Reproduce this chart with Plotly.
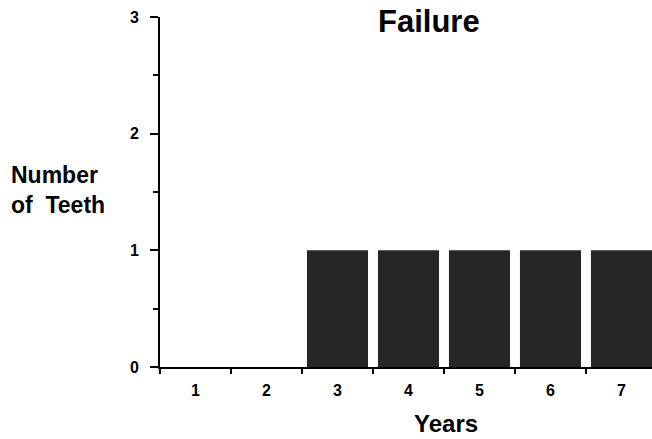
import plotly.graph_objects as go

years = ["1", "2", "3", "4", "5", "6", "7"]
teeth = [0, 0, 1, 1, 1, 1, 1]
y_ticks = [0, 1, 2, 3]

W, H = 652, 439
L, R, T, B = 160, 0, 17, 439 - 367
pw, ph = W - L - R, H - T - B

def px(x):
    return (x - L) / pw

def py(y):
    return (H - B - y) / ph

FONT = "Liberation Sans, Arial, sans-serif"

fig = go.Figure(go.Bar(
    x=years, y=teeth, marker=dict(color="#262626", line=dict(width=0)),
    width=0.86,
))

fig.update_layout(
    width=W, height=H,
    margin=dict(l=L, r=R, t=T, b=B),
    paper_bgcolor="white", plot_bgcolor="white",
    showlegend=False,
    font=dict(family=FONT, color="black"),
    xaxis=dict(
        type="category", range=[-0.5, 6.43],
        tickson="boundaries", ticks="outside", ticklen=5, tickwidth=2, tickcolor="black",
        showline=True, linecolor="black", linewidth=2, showgrid=False, zeroline=False,
        tickfont=dict(family=FONT, size=16, color="black", weight="bold"),
        ticklabelstandoff=8,
    ),
    yaxis=dict(
        range=[0, 3], tickvals=y_ticks, ticktext=[str(v) for v in y_ticks],
        ticks="outside", ticklen=8, tickwidth=2, tickcolor="black",
        minor=dict(ticks="outside", tick0=0.5, dtick=1, ticklen=5, tickwidth=2, tickcolor="black"),
        showline=True, linecolor="black", linewidth=2, showgrid=False, zeroline=False,
        tickfont=dict(family=FONT, size=16, color="black", weight="bold"),
        ticklabelstandoff=8,
    ),
    annotations=[
        dict(text="<b>Failure</b>", x=px(429), y=py(22), xref="paper", yref="paper",
             xanchor="center", yanchor="middle", showarrow=False,
             font=dict(family=FONT, size=31, color="black")),
        dict(text="<b>Years</b>", x=px(446), y=py(423), xref="paper", yref="paper",
             xanchor="center", yanchor="middle", showarrow=False,
             font=dict(family=FONT, size=24, color="black")),
        dict(text="<b>Number<br>of  Teeth</b>", x=px(9), y=py(190), xref="paper", yref="paper",
             xanchor="left", yanchor="middle", align="left", showarrow=False,
             font=dict(family=FONT, size=23, color="black")),
    ],
)

# remove the page's default body margin so the figure fills the window exactly
fig.write_html("out.html", config={"displayModeBar": False},
               post_script="document.body.style.margin='0';")
